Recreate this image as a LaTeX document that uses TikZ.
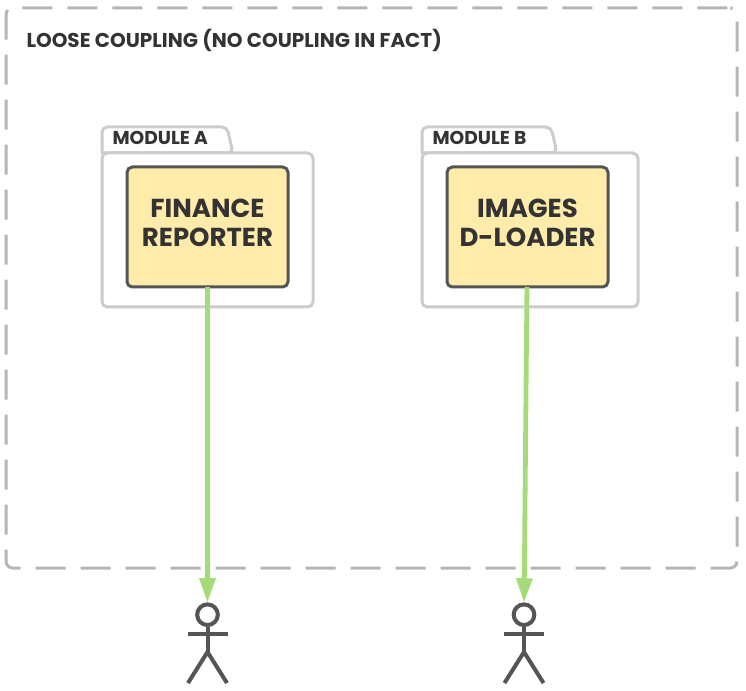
\documentclass[tikz,border=0pt]{standalone}
\usepackage{fontspec}
\setmainfont{Poppins}
\usetikzlibrary{arrows.meta}
\definecolor{cdash}{HTML}{B5B5B5}
\definecolor{cfolder}{HTML}{CCCCCC}
\definecolor{cyellow}{HTML}{FFEBAA}
\definecolor{cdark}{HTML}{555555}
\definecolor{cgreen}{HTML}{A5DB78}
\definecolor{ctext}{HTML}{333333}
\tikzset{
  every picture/.style={x=0.75pt, y=-0.75pt, line width=2.25pt},
  frame/.style={draw=cdash, dash pattern=on 22.5pt off 11.25pt, dash phase=31.5pt, rounded corners=5pt, minimum width=548.25pt, minimum height=420pt, outer sep=0pt},
  folder/.style={draw=cfolder, fill=white, rounded corners=4pt},
  compbox/.style={draw=cdark, fill=cyellow, rounded corners=4pt, minimum width=120.75pt, minimum height=90pt, align=center, outer sep=0pt, text depth=6pt, font=\fontsize{19.5}{21.75}\selectfont\bfseries, text=ctext},
  arrow/.style={-{Triangle[length=18.5pt, width=11.5pt]}, draw=cgreen, line width=3.6pt},
  head/.style={draw=cdark, circle, minimum size=15.5pt, inner sep=0pt, outer sep=1.1pt, line width=3pt},
  limb/.style={draw=cdark, line width=3pt},
  title/.style={font=\fontsize{15}{18}\selectfont\bfseries, text=ctext, inner sep=0pt},
}
\begin{document}
\begin{tikzpicture}
  \useasboundingbox (0,0) rectangle (746,691);
  \node[frame] (outer) at (371.5,288) {};
  \node[title, anchor=west] (outertitle) at (25,40) {LOOSE COUPLING (NO COUPLING IN FACT)};
  \foreach \i/\x/\w/\t/\name/\l in {a/102/211/131/MODULE A/{FINANCE\\REPORTER}, b/422/216/135/MODULE B/{IMAGES\\D-LOADER}} {
    % tab first, the body covers its lower edge
    \draw[folder] (\x,153) -- (\x,127) -- ({\x+\t-6},127) -- ({\x+\t},153) [sharp corners] -- cycle;
    \draw[folder] (\x,153) rectangle ({\x+\w},307);
    \node[title, anchor=west, font=\fontsize{14}{16}\selectfont\bfseries] (label\i) at ({\x+9},138) {\name};
    \node[compbox] (box\i) at ({\x+105.5},227) {\l};
  }
  \foreach \i/\x in {a/207.5, b/524} {
    \node[head] (actor\i) at (\x,614.7) {};
    \coordinate (hip\i) at (\x,652);
    \coordinate (armleft\i) at ({\x-20},634);
    \coordinate (armright\i) at ({\x+20},634);
    \coordinate (footleft\i) at ({\x-19.5},683);
    \coordinate (footright\i) at ({\x+19.5},683);
    \draw[limb] (actor\i) -- (hip\i);
    \draw[limb] (armleft\i) -- (armright\i);
    \draw[limb] (footleft\i) -- (hip\i) -- (footright\i);
    \draw[arrow] (box\i) -- (actor\i);
  }
\end{tikzpicture}
\end{document}
